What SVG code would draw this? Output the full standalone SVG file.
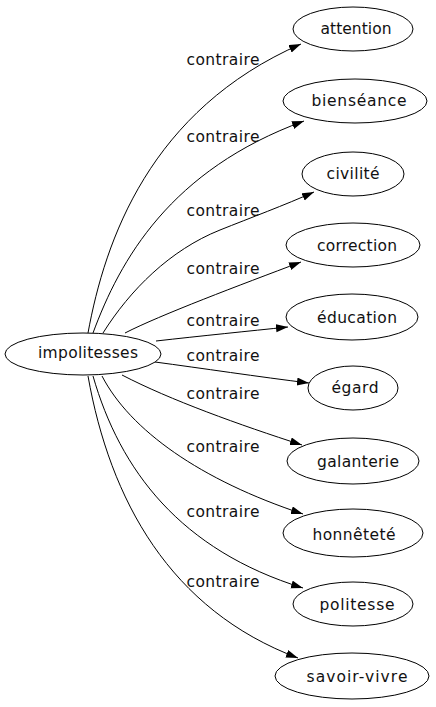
<svg xmlns="http://www.w3.org/2000/svg" width="436" height="707" viewBox="0 0 436 707">
<style>
.node ellipse{fill:#fff;stroke:#000;stroke-width:1}
.node text{font-family:"DejaVu Sans",sans-serif;font-size:15.5px;fill:#111;text-anchor:middle}
.edges path{fill:none;stroke:#000;stroke-width:1;marker-end:url(#arr)}
.edges text{font-family:"DejaVu Sans",sans-serif;font-size:15.5px;fill:#111;text-anchor:middle}
</style>
<defs>
<marker id="arr" markerUnits="userSpaceOnUse" markerWidth="13" markerHeight="9" refX="12" refY="4" orient="auto">
<path d="M0,0 L12,4 L0,8 z" fill="#000"/>
</marker>
</defs>
<rect width="436" height="707" fill="#fff"/>
<g class="edges" id="edges">
<path d="M88,333 C105,240 150,110 301,44"/>
<text x="223" y="65" textLength="73" lengthAdjust="spacing">contraire</text>
<path d="M93,333 C120,260 170,170 304,121"/>
<text x="223" y="142" textLength="73" lengthAdjust="spacing">contraire</text>
<path d="M103,333 C130,290 170,250 220,230 C250,218 285,205 314,192"/>
<text x="223" y="216" textLength="73" lengthAdjust="spacing">contraire</text>
<path d="M125,333 C160,315 240,285 301,262"/>
<text x="223" y="274" textLength="73" lengthAdjust="spacing">contraire</text>
<path d="M156,341 C200,336 250,331 288,327"/>
<text x="223" y="326" textLength="73" lengthAdjust="spacing">contraire</text>
<path d="M155,362 C200,368 260,377 309,383"/>
<text x="223" y="361" textLength="73" lengthAdjust="spacing">contraire</text>
<path d="M122,375 C170,400 240,425 302,445"/>
<text x="223" y="399" textLength="73" lengthAdjust="spacing">contraire</text>
<path d="M102,376 C130,430 200,480 303,514"/>
<text x="223" y="452" textLength="73" lengthAdjust="spacing">contraire</text>
<path d="M93,376 C120,470 180,550 303,588"/>
<text x="223" y="517" textLength="73" lengthAdjust="spacing">contraire</text>
<path d="M88,376 C110,500 170,610 298,658"/>
<text x="223" y="587" textLength="73" lengthAdjust="spacing">contraire</text>
</g>
<g class="node" id="n-impolitesses"><ellipse cx="83" cy="354" rx="78" ry="21"/><text x="88" y="358" textLength="100" lengthAdjust="spacing">impolitesses</text></g>
<g class="node" id="n-attention"><ellipse cx="353" cy="29" rx="60" ry="22"/><text x="356" y="34" textLength="71" lengthAdjust="spacing">attention</text></g>
<g class="node" id="n-bienseance"><ellipse cx="355" cy="101" rx="72" ry="22"/><text x="359" y="106" textLength="95" lengthAdjust="spacing">bienséance</text></g>
<g class="node" id="n-civilite"><ellipse cx="353" cy="174" rx="51" ry="22"/><text x="353" y="179" textLength="53" lengthAdjust="spacing">civilité</text></g>
<g class="node" id="n-correction"><ellipse cx="353" cy="245" rx="67" ry="22"/><text x="357" y="251" textLength="80" lengthAdjust="spacing">correction</text></g>
<g class="node" id="n-education"><ellipse cx="352" cy="317" rx="66" ry="23"/><text x="357" y="323" textLength="80" lengthAdjust="spacing">éducation</text></g>
<g class="node" id="n-egard"><ellipse cx="353" cy="388" rx="45" ry="22"/><text x="355" y="393" textLength="47" lengthAdjust="spacing">égard</text></g>
<g class="node" id="n-galanterie"><ellipse cx="353" cy="461" rx="66" ry="23"/><text x="358" y="467" textLength="82" lengthAdjust="spacing">galanterie</text></g>
<g class="node" id="n-honnetete"><ellipse cx="353" cy="533" rx="70" ry="24"/><text x="354" y="540" textLength="83" lengthAdjust="spacing">honnêteté</text></g>
<g class="node" id="n-politesse"><ellipse cx="353" cy="604" rx="60" ry="22"/><text x="357" y="610" textLength="75" lengthAdjust="spacing">politesse</text></g>
<g class="node" id="n-savoir-vivre"><ellipse cx="352" cy="676" rx="77" ry="23"/><text x="357" y="682" textLength="101" lengthAdjust="spacing">savoir-vivre</text></g>
</svg>
